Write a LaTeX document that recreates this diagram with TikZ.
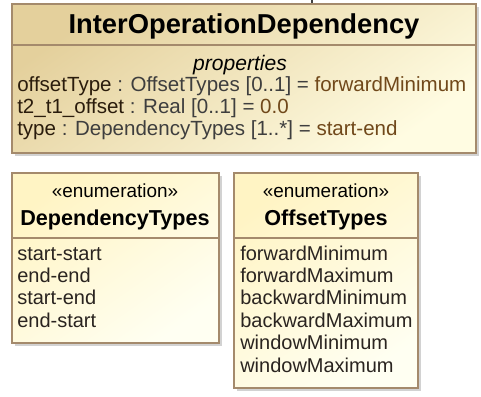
\documentclass[tikz,border=0pt]{standalone}
\usepackage{fontspec}
\setmainfont{Liberation Sans}
\usetikzlibrary{shadows,fit}

\definecolor{boxline}{HTML}{A48A6C}
\definecolor{classtop}{HTML}{E4D09C}
\definecolor{classbot}{HTML}{FFFCE2}
\definecolor{enumtop}{HTML}{FFF4C4}
\definecolor{enumbot}{HTML}{FFFFF2}
\definecolor{attrname}{HTML}{2A1C0C}
\definecolor{attrtype}{HTML}{3E3E3E}
\definecolor{attrval}{HTML}{70481A}
\definecolor{itemtext}{HTML}{2A2420}

\begin{document}
\begin{tikzpicture}[x=0.75pt,y=-0.75pt]
  \tikzset{umlbox/.style={draw=boxline,line width=1.1pt,inner sep=0pt,
      drop shadow={shadow xshift=2.2pt,shadow yshift=-2.2pt,fill=black!35,opacity=0.5}},
    classbox/.style={umlbox,top color=classtop,bottom color=classbot,shading angle=35},
    enumbox/.style={umlbox,top color=enumtop,bottom color=enumbot,shading angle=35},
    divider/.style={draw=boxline,line width=1.1pt},
    classname/.style={font=\fontsize{20.5}{24}\bfseries\selectfont,text=black,inner sep=0pt,anchor=base},
    enumname/.style={font=\fontsize{16.2}{19}\bfseries\selectfont,text=black,inner sep=0pt,anchor=base},
    stereo/.style={font=\fontsize{14.2}{17}\selectfont,text=black,inner sep=0pt,anchor=base},
    attr/.style={font=\fontsize{15.4}{18}\selectfont,text=attrtype,inner sep=0pt,anchor=base west},
    literal/.style={font=\fontsize{15}{18}\selectfont,text=itemtext,inner sep=0pt,anchor=base west}}

  \useasboundingbox (0,0) rectangle (481,396);

  % class box
  \node[classbox,fit={(12,4) (476,153)}] (iod) {};
  \coordinate (iodsep) at (0,45);
  \draw[divider] (iod.west |- iodsep) -- (iod.east |- iodsep);
  \node[classname] (iodname) at (244,33) {InterOperationDependency};
  \node[attr,anchor=base,font=\fontsize{15.8}{18}\itshape\selectfont,text=black] (props) at (240,70) {properties};
  \node[attr] (offsettype) at (17,91) {\textcolor{attrname}{offsetType} : OffsetTypes [0..1] = \textcolor{attrval}{forwardMinimum}};
  \node[attr] (toffset) at (17,113) {\textcolor{attrname}{t2\_t1\_offset} : Real [0..1] = \textcolor{attrval}{0.0}};
  \node[attr] (deptype) at (17,135) {\textcolor{attrname}{type} : DependencyTypes [1..*] = \textcolor{attrval}{start-end}};

  % stub of a connector above the class
  \coordinate (stub) at (312,0);
  \draw[line width=0.9pt,black!75] (stub) -- (stub |- iod.north);

  % enumerations
  \coordinate (enumsep) at (0,238);
  \node[enumbox,fit={(12,173) (219,343)}] (deptypes) {};
  \draw[divider] (deptypes.west |- enumsep) -- (deptypes.east |- enumsep);
  \node[stereo] (depstereo) at (115,197) {«enumeration»};
  \node[enumname] (depname) at (115,225) {DependencyTypes};
  \node[literal] (ss) at (17,260) {start-start};
  \node[literal] (ee) at (17,282) {end-end};
  \node[literal] (se) at (17,304) {start-end};
  \node[literal] (es) at (17,327) {end-start};

  \node[enumbox,fit={(234,173) (418,388)}] (offtypes) {};
  \draw[divider] (offtypes.west |- enumsep) -- (offtypes.east |- enumsep);
  \node[stereo] (offstereo) at (326,197) {«enumeration»};
  \node[enumname] (offname) at (326,225) {OffsetTypes};
  \node[literal] (fmin) at (240,260) {forwardMinimum};
  \node[literal] (fmax) at (240,282) {forwardMaximum};
  \node[literal] (bmin) at (240,304) {backwardMinimum};
  \node[literal] (bmax) at (240,327) {backwardMaximum};
  \node[literal] (wmin) at (240,349) {windowMinimum};
  \node[literal] (wmax) at (240,372) {windowMaximum};
\end{tikzpicture}
\end{document}
